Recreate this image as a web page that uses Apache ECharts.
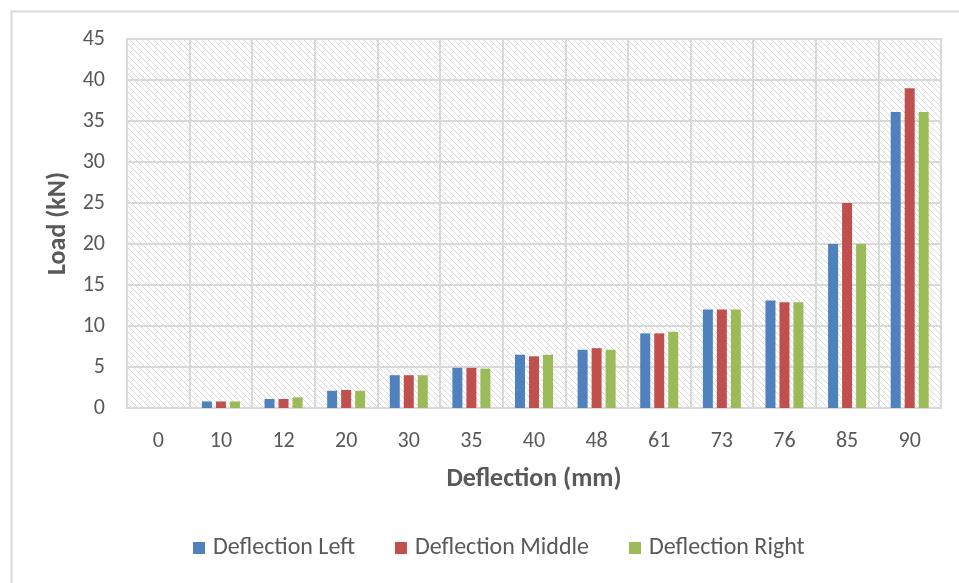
<!DOCTYPE html>
<html>
<head>
<meta charset="utf-8">
<script src="https://cdn.jsdelivr.net/npm/echarts@6/dist/echarts.min.js"></script>
<style>
  html, body { margin: 0; padding: 0; background: #ffffff; }
  #chart { width: 959px; height: 583px; }
</style>
</head>
<body>
<div id="chart"></div>
<script>
// Deflection categories (mm) and measured loads (kN)
const categories = ['0', '10', '12', '20', '30', '35', '40', '48', '61', '73', '76', '85', '90'];
const deflectionLeft   = [0, 0.8, 1.1, 2.1, 4.0, 4.9, 6.5, 7.1, 9.1, 12.0, 13.1, 20.0, 36.1];
const deflectionMiddle = [0, 0.8, 1.1, 2.2, 4.0, 4.9, 6.3, 7.3, 9.1, 12.0, 12.9, 25.0, 39.0];
const deflectionRight  = [0, 0.8, 1.3, 2.1, 4.0, 4.8, 6.5, 7.1, 9.3, 12.0, 12.9, 20.0, 36.1];
const seriesNames = ['Deflection Left', 'Deflection Middle', 'Deflection Right'];
const yTicks = { min: 0, max: 45, interval: 5 };

const FONT = 'Carlito, "Liberation Sans Narrow", "Open Sans", sans-serif';
const TEXT = '#595959';
const GRIDLINE = '#d9d9d9';

// Diagonal hatch tile for the plot background
function hatchTile() {
  const c = document.createElement('canvas');
  c.width = 6; c.height = 6;
  const g = c.getContext('2d');
  g.fillStyle = '#ffffff';
  g.fillRect(0, 0, 6, 6);
  g.fillStyle = '#dadada';
  for (let i = 0; i < 6; i++) {
    g.fillRect(i, i, 1, 1);
  }
  return c;
}

const chart = echarts.init(document.getElementById('chart'), null, { renderer: 'canvas' });

function barSeries(name, data, color) {
  return {
    name: name,
    type: 'bar',
    data: data,
    barWidth: 10,
    barGap: '40%',
    itemStyle: { color: color },
    emphasis: { disabled: true }
  };
}

chart.setOption({
  animation: false,
  backgroundColor: '#ffffff',
  textStyle: { fontFamily: FONT },
  graphic: [{
    type: 'rect',
    left: 9, top: 9,
    shape: { width: 980, height: 600 },
    style: { fill: 'none', stroke: '#d9d9d9', lineWidth: 2 },
    z: -10
  }],
  grid: {
    left: 127, right: 18, top: 39, bottom: 175,
    show: true,
    backgroundColor: { image: hatchTile(), repeat: 'repeat' },
    borderColor: GRIDLINE,
    borderWidth: 2
  },
  legend: {
    data: seriesNames,
    top: 531,
    left: 188,
    itemWidth: 12,
    itemHeight: 12,
    itemGap: 40,
    icon: 'rect',
    textStyle: { color: TEXT, fontSize: 24, fontFamily: FONT, padding: [0, 0, 0, 3] }
  },
  xAxis: {
    type: 'category',
    data: categories,
    name: 'Deflection (mm)',
    nameLocation: 'middle',
    nameGap: 58,
    nameTextStyle: { color: TEXT, fontSize: 26, fontWeight: 'bold', fontFamily: FONT },
    axisLine: { show: true, lineStyle: { color: GRIDLINE, width: 2 } },
    axisTick: { show: false },
    axisLabel: { color: TEXT, fontSize: 22, margin: 22, fontFamily: FONT },
    splitLine: { show: true, lineStyle: { color: GRIDLINE, width: 2 } }
  },
  yAxis: {
    type: 'value',
    min: yTicks.min,
    max: yTicks.max,
    interval: yTicks.interval,
    name: 'Load (kN)',
    nameLocation: 'middle',
    nameGap: 52,
    nameRotate: 90,
    nameTextStyle: { color: TEXT, fontSize: 26, fontWeight: 'bold', fontFamily: FONT },
    axisLine: { show: false },
    axisTick: { show: false },
    axisLabel: { color: TEXT, fontSize: 22, margin: 22, fontFamily: FONT },
    splitLine: { show: true, lineStyle: { color: GRIDLINE, width: 2 } }
  },
  series: [
    barSeries(seriesNames[0], deflectionLeft, '#4f81bd'),
    barSeries(seriesNames[1], deflectionMiddle, '#c0504d'),
    barSeries(seriesNames[2], deflectionRight, '#9bbb59')
  ]
});
</script>
</body>
</html>
